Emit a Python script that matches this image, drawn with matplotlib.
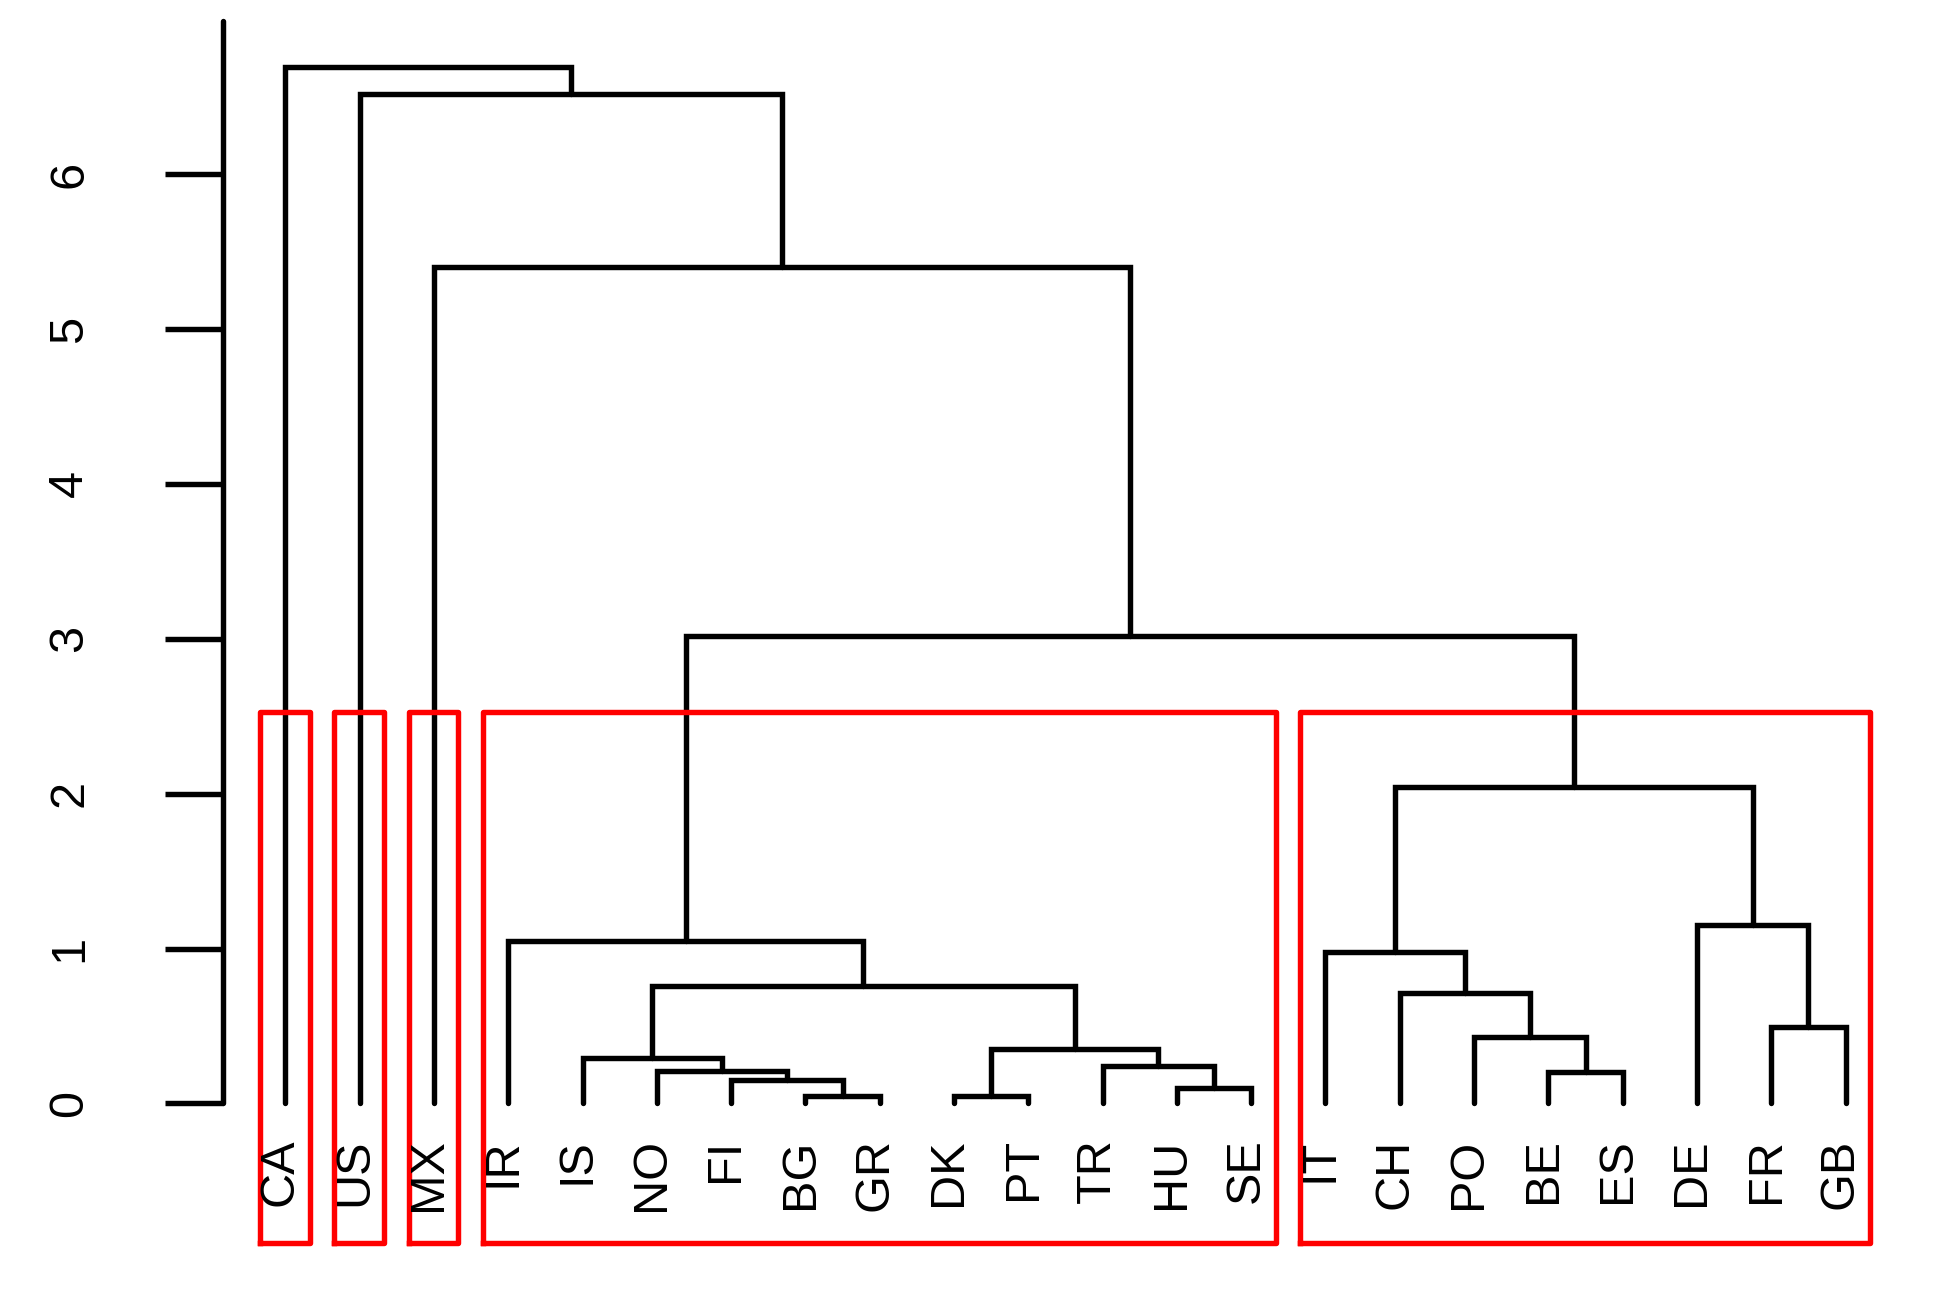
import matplotlib
matplotlib.use("Agg")
import matplotlib.pyplot as plt
import matplotlib.transforms as mtransforms
import numpy as np

# ---- data (R hclust-style merge table) ----
labels = ["CA", "US", "MX", "IR", "IS", "NO", "FI", "BG", "GR", "DK", "PT",
          "TR", "HU", "SE", "IT", "CH", "PO", "BE", "ES", "DE", "FR", "GB"]
# negative = leaf index (1-based into labels), positive = earlier merge (1-based)
merge_left = [-8, -10, -13, -7, -18, -6, -12, -5, 2, -17, -21,
              -16, 8, -15, -4, -20, 14, 15, -3, -2, -1]
merge_right = [-9, -11, -14, 1, -19, 4, 3, 6, 7, 5, -22,
               10, 9, 12, 13, 11, 16, 17, 18, 19, 20]
merge_height = [0.05, 0.05, 0.10, 0.15, 0.20, 0.21, 0.24, 0.29, 0.35, 0.43, 0.49,
                0.71, 0.76, 0.98, 1.05, 1.15, 2.04, 3.02, 5.40, 6.52, 6.69]
k_clusters = 5
y_ticks = [0, 1, 2, 3, 4, 5, 6]

# ---- figure ----
W, H = 1951, 1291
fig = plt.figure(figsize=(W / 100, H / 100), dpi=100)
plt.rcParams['font.family'] = ['Liberation Sans', 'DejaVu Sans']
ax = fig.add_axes([222.9 / W, 1 - 1242.7 / H, (1908 - 222.9) / W, (1242.7 - 21) / H])

n = len(labels)
leaf_x = {i + 1: float(i + 1) for i in range(n)}
node_x = {}
node_h = {}


def pos(ref):
    if ref < 0:
        return leaf_x[-ref], 0.0
    return node_x[ref], node_h[ref]


LW = 3.9
for m, (l, r, h) in enumerate(zip(merge_left, merge_right, merge_height), start=1):
    xl, yl = pos(l)
    xr, yr = pos(r)
    ax.plot([xl, xl, xr, xr], [yl, h, h, yr], color="black", lw=LW,
            solid_capstyle="round", solid_joinstyle="miter")
    node_x[m] = (xl + xr) / 2
    node_h[m] = h


def leaves_of(ref):
    if ref < 0:
        return [-ref]
    return leaves_of(merge_left[ref - 1]) + leaves_of(merge_right[ref - 1])


# cut tree into k clusters
nm = len(merge_height)
removed = set(range(nm - k_clusters + 2, nm + 1))
clusters = []
for m in removed:
    for child in (merge_left[m - 1], merge_right[m - 1]):
        if child < 0 or child not in removed:
            clusters.append(leaves_of(child))
clusters.sort(key=min)
hs = sorted(merge_height, reverse=True)
rect_top = (hs[k_clusters - 2] + hs[k_clusters - 1]) / 2

ylim = (-0.90, 6.99)
xlim = (1 - 0.04 * (n - 1), n + 0.04 * (n - 1))
for cl in clusters:
    x0 = min(cl) - 0.34
    x1 = max(cl) + 0.33
    ax.plot([x0, x1, x1, x0, x0], [ylim[0], ylim[0], rect_top, rect_top, ylim[0]],
            color="#FF0000", lw=LW, solid_joinstyle="round", clip_on=False)

# leaf labels
off = mtransforms.ScaledTranslation(0, -35 / 100, fig.dpi_scale_trans)
for i, lab in enumerate(labels):
    ax.text(leaf_x[i + 1] - 0.07, 0, lab, rotation=90, ha="center", va="top",
            fontsize=35, transform=ax.transData + off)

ax.set_xlim(*xlim)
ax.set_ylim(*ylim)
for s in ["top", "right", "bottom"]:
    ax.spines[s].set_visible(False)
ax.spines["left"].set_bounds(0, ylim[1])
ax.spines["left"].set_linewidth(LW)
ax.spines["left"].set_capstyle("round")
ax.set_xticks([])
ax.set_yticks(y_ticks)
ax.set_yticklabels([str(t) for t in y_ticks], rotation=90, va="center",
                   fontsize=35)
ax.tick_params(axis="y", length=42, width=LW, pad=52)

fig.savefig("out.png", dpi=100)
